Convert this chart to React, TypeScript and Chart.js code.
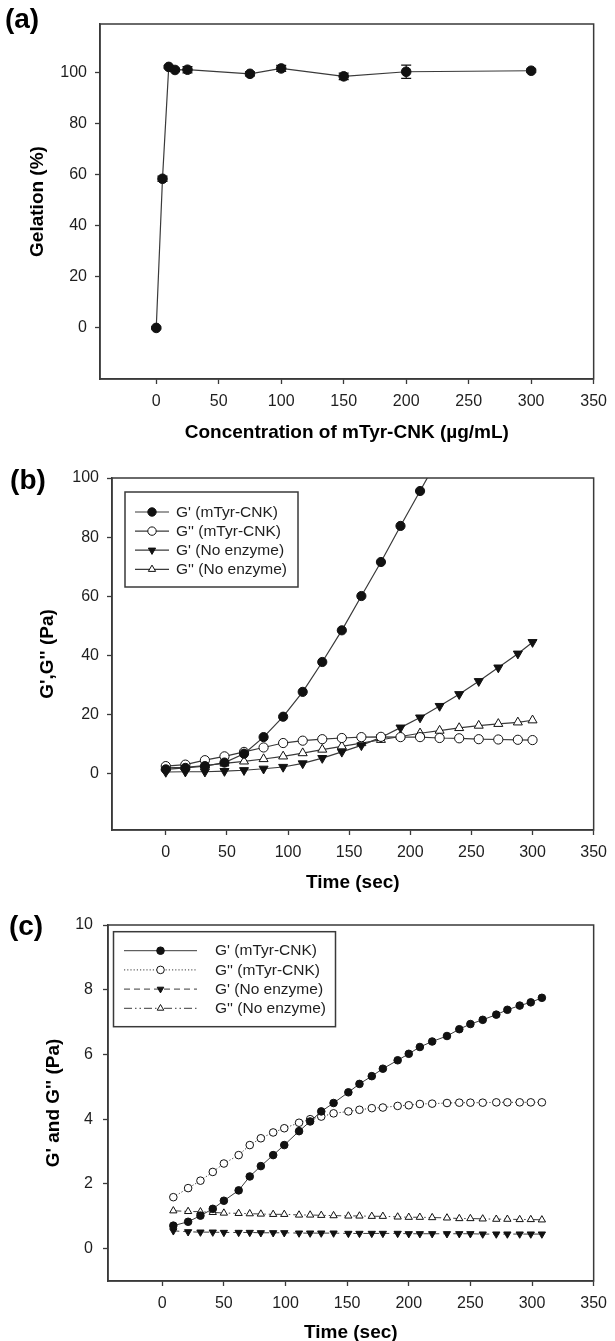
import React, { useEffect, useRef } from "react";
import { Chart, registerables } from "chart.js";
Chart.register(...registerables);

const FONT = '"Liberation Sans", Arial, Helvetica, sans-serif';
const INK = "#1e1e1e";
const FRAME = "#3a3a3a";
const LINE = "#3a3a3a";

// ---------- panel (a) ----------
const concA = [0, 5, 10, 15, 25, 75, 100, 150, 200, 300];
const gelA = [0, 58.4, 102.2, 101.0, 101.1, 99.5, 101.6, 98.5, 100.3, 100.7];
const gelErrA = [0.4, 1.0, 0.5, 0.6, 1.2, 0.8, 1.2, 1.3, 2.6, 0.6];
const xTicks = [0, 50, 100, 150, 200, 250, 300, 350];
const yTicksA = [0, 20, 40, 60, 80, 100];

// ---------- panel (b) ----------
const timeB = [0, 16, 32, 48, 64, 80, 96, 112, 128, 144, 160, 176, 192, 208, 224, 240, 256, 272, 288, 300];
const gpEnzB = [1.5, 2.0, 2.6, 3.8, 6.8, 12.4, 19.3, 27.7, 37.8, 48.5, 60.1, 71.6, 83.8, 95.6, 107.5];
const gppEnzB = [2.6, 3.1, 4.6, 5.9, 7.4, 8.9, 10.4, 11.2, 11.7, 12.1, 12.4, 12.5, 12.4, 12.4, 12.1, 12.0, 11.7, 11.6, 11.5, 11.4];
const gpNoB = [0.6, 0.7, 0.7, 0.9, 1.2, 1.7, 2.3, 3.5, 5.3, 7.4, 9.6, 12.3, 15.6, 19.0, 22.9, 26.9, 31.3, 35.9, 40.6, 44.5];
const gppNoB = [2.0, 2.2, 2.8, 3.5, 4.2, 5.0, 5.9, 7.0, 8.2, 9.3, 10.4, 11.5, 12.6, 13.7, 14.6, 15.5, 16.3, 16.9, 17.4, 18.1];
const yTicksB = [0, 20, 40, 60, 80, 100];

// ---------- panel (c) ----------
const timeC = [9, 21, 31, 41, 50, 62, 71, 80, 90, 99, 111, 120, 129, 139, 151, 160, 170, 179, 191, 200, 209, 219, 231, 241, 250, 260, 271, 280, 290, 299, 308];
const gpEnzC = [0.71, 0.83, 1.02, 1.23, 1.48, 1.80, 2.23, 2.55, 2.89, 3.20, 3.63, 3.93, 4.24, 4.50, 4.83, 5.09, 5.33, 5.56, 5.82, 6.02, 6.23, 6.40, 6.57, 6.78, 6.94, 7.07, 7.23, 7.38, 7.51, 7.61, 7.75];
const gppEnzC = [1.59, 1.87, 2.10, 2.37, 2.63, 2.89, 3.20, 3.41, 3.59, 3.72, 3.89, 4.00, 4.08, 4.18, 4.24, 4.29, 4.34, 4.36, 4.41, 4.43, 4.47, 4.48, 4.50, 4.51, 4.51, 4.51, 4.52, 4.52, 4.52, 4.52, 4.52];
const gpNoC = [0.55, 0.52, 0.51, 0.51, 0.50, 0.50, 0.50, 0.49, 0.49, 0.49, 0.48, 0.48, 0.48, 0.48, 0.47, 0.47, 0.47, 0.47, 0.47, 0.46, 0.46, 0.46, 0.46, 0.46, 0.46, 0.45, 0.45, 0.45, 0.45, 0.45, 0.45];
const gppNoC = [1.17, 1.15, 1.14, 1.12, 1.10, 1.09, 1.08, 1.07, 1.06, 1.06, 1.04, 1.04, 1.03, 1.02, 1.01, 1.01, 1.00, 1.00, 0.98, 0.97, 0.97, 0.96, 0.95, 0.93, 0.93, 0.92, 0.91, 0.91, 0.90, 0.90, 0.89];
const yTicksC = [0, 2, 4, 6, 8, 10];

const seriesLabels = ["G' (mTyr-CNK)", "G'' (mTyr-CNK)", "G' (No enzyme)", "G'' (No enzyme)"];

const zip = (xs: number[], ys: number[]) => ys.map((y, i) => ({ x: xs[i], y }));

// ---------- helpers ----------
function drawMarker(ctx: CanvasRenderingContext2D, style: string, x: number, y: number, r: number, rotDeg: number, fill: string, stroke: string) {
  ctx.save();
  ctx.setLineDash([]);
  ctx.beginPath();
  if (style === "triangle") {
    let rad = (rotDeg * Math.PI) / 180;
    ctx.moveTo(x + Math.sin(rad) * r, y - Math.cos(rad) * r);
    rad += (2 * Math.PI) / 3;
    ctx.lineTo(x + Math.sin(rad) * r, y - Math.cos(rad) * r);
    rad += (2 * Math.PI) / 3;
    ctx.lineTo(x + Math.sin(rad) * r, y - Math.cos(rad) * r);
    ctx.closePath();
  } else {
    ctx.arc(x, y, r, 0, Math.PI * 2);
  }
  ctx.fillStyle = fill;
  ctx.fill();
  ctx.lineWidth = 1;
  ctx.strokeStyle = stroke;
  ctx.stroke();
  ctx.restore();
}

const framePlugin = {
  id: "frameBox",
  afterDraw(chart: any) {
    const { ctx, chartArea: a } = chart;
    ctx.save();
    ctx.strokeStyle = FRAME;
    ctx.lineWidth = 1.5;
    ctx.strokeRect(a.left, a.top, a.right - a.left, a.bottom - a.top);
    ctx.restore();
  },
};

const panelLabelPlugin = {
  id: "panelLabel",
  afterDraw(chart: any, _args: any, opts: any) {
    if (!opts || !opts.text) return;
    const { ctx } = chart;
    ctx.save();
    ctx.font = `bold ${opts.size}px ${FONT}`;
    ctx.fillStyle = "#000";
    ctx.textAlign = "center";
    ctx.textBaseline = "middle";
    ctx.fillText(opts.text, opts.x, opts.y);
    ctx.restore();
  },
};

const errorBarPlugin = {
  id: "errorBars",
  beforeDatasetsDraw(chart: any, _args: any, opts: any) {
    if (!opts || !opts.errors) return;
    const { ctx, scales } = chart;
    const ds = chart.data.datasets[0];
    ctx.save();
    ctx.strokeStyle = "#111";
    ctx.lineWidth = 1.2;
    ds.data.forEach((p: any, i: number) => {
      const e = opts.errors[i];
      if (!e) return;
      const x = scales.x.getPixelForValue(p.x);
      const y1 = scales.y.getPixelForValue(p.y + e);
      const y2 = scales.y.getPixelForValue(p.y - e);
      const w = opts.cap / 2;
      ctx.beginPath();
      ctx.moveTo(x, y1);
      ctx.lineTo(x, y2);
      ctx.moveTo(x - w, y1);
      ctx.lineTo(x + w, y1);
      ctx.moveTo(x - w, y2);
      ctx.lineTo(x + w, y2);
      ctx.stroke();
    });
    ctx.restore();
  },
};

const boxLegendPlugin = {
  id: "boxLegend",
  afterDraw(chart: any, _args: any, o: any) {
    if (!o || !o.show) return;
    const { ctx, chartArea } = chart;
    const x0 = chartArea.left + o.dx;
    const y0 = chartArea.top + o.dy;
    ctx.save();
    ctx.fillStyle = "#fff";
    ctx.fillRect(x0, y0, o.w, o.h);
    ctx.strokeStyle = FRAME;
    ctx.lineWidth = 1.5;
    ctx.strokeRect(x0, y0, o.w, o.h);
    chart.data.datasets.forEach((ds: any, i: number) => {
      const y = y0 + o.rowStart + i * o.rowGap;
      ctx.save();
      ctx.strokeStyle = ds.borderColor;
      ctx.lineWidth = ds.borderWidth;
      ctx.setLineDash(ds.borderDash || []);
      ctx.beginPath();
      ctx.moveTo(x0 + o.lineX0, y);
      ctx.lineTo(x0 + o.lineX1, y);
      ctx.stroke();
      ctx.restore();
      drawMarker(ctx, ds.pointStyle, x0 + o.markerX, y, o.markerR, ds.pointRotation || 0, ds.pointBackgroundColor, ds.pointBorderColor);
      ctx.fillStyle = INK;
      ctx.font = `${o.fontSize}px ${FONT}`;
      ctx.textAlign = "left";
      ctx.textBaseline = "middle";
      ctx.fillText(ds.label, x0 + o.textX, y + 0.5);
    });
    ctx.restore();
  },
};

function xAxis(min: number, title: string, height: number, titlePad: number) {
  return {
    type: "linear",
    min,
    max: 350,
    afterBuildTicks: (s: any) => {
      s.ticks = xTicks.map((v) => ({ value: v }));
    },
    afterFit: (s: any) => {
      s.height = height;
    },
    grid: { display: true, drawOnChartArea: false, drawTicks: true, tickLength: 5, tickColor: FRAME, tickWidth: 1.3 },
    border: { display: true, color: FRAME, width: 1.5 },
    ticks: { color: INK, font: { family: FONT, size: 16 }, padding: 8, maxRotation: 0, autoSkip: false },
    title: { display: true, text: title, color: "#000", font: { family: FONT, size: 19, weight: "bold" }, padding: { top: 0, bottom: titlePad } },
  };
}

function yAxis(min: number, max: number, ticks: number[], title: string, width: number, titlePad: number, tickPad: number) {
  return {
    type: "linear",
    min,
    max,
    afterBuildTicks: (s: any) => {
      s.ticks = ticks.map((v) => ({ value: v }));
    },
    afterFit: (s: any) => {
      s.width = width;
    },
    grid: { display: true, drawOnChartArea: false, drawTicks: true, tickLength: 5, tickColor: FRAME, tickWidth: 1.3 },
    border: { display: true, color: FRAME, width: 1.5 },
    ticks: { color: INK, font: { family: FONT, size: 16 }, padding: tickPad },
    title: { display: true, text: title, color: "#000", font: { family: FONT, size: 19, weight: "bold" }, padding: { top: titlePad, bottom: 0 } },
  };
}

function configA(): any {
  return {
    type: "line",
    data: {
      datasets: [
        {
          label: "Gelation",
          data: zip(concA, gelA),
          borderColor: LINE,
          borderWidth: 1.2,
          pointStyle: "circle",
          pointRadius: 4.8,
          pointBackgroundColor: "#111",
          pointBorderColor: "#111",
          pointBorderWidth: 1,
          tension: 0,
        },
      ],
    },
    options: {
      responsive: false,
      animation: false,
      devicePixelRatio: 1,
      layout: { padding: { top: 24, right: 20, left: 0, bottom: 0 } },
      scales: {
        x: xAxis(-45, "Concentration of mTyr-CNK (\u00b5g/mL)", 66, 1),
        y: yAxis(-20, 119, yTicksA, "Gelation (%)", 100, 26, 8),
      },
      plugins: {
        legend: { display: false },
        tooltip: { enabled: false },
        panelLabel: { text: "(a)", x: 22, y: 20, size: 28 },
        errorBars: { errors: gelErrA, cap: 10 },
        boxLegend: { show: false },
      },
    },
    plugins: [errorBarPlugin, framePlugin, panelLabelPlugin, boxLegendPlugin],
  };
}

function seriesSet(xs: number[], ys: number[][], radius: number[], width: number, dashes: number[][]) {
  const fills = ["#111", "#fff", "#111", "#fff"];
  const styles = ["circle", "circle", "triangle", "triangle"];
  const rots = [0, 0, 180, 0];
  return ys.map((vals, i) => ({
    label: seriesLabels[i],
    data: zip(xs, vals),
    borderColor: LINE,
    borderWidth: width,
    borderDash: dashes[i],
    pointStyle: styles[i],
    pointRotation: rots[i],
    pointRadius: radius[i],
    pointBackgroundColor: fills[i],
    pointBorderColor: "#111",
    pointBorderWidth: 1,
    tension: 0,
  }));
}

function configB(): any {
  return {
    type: "line",
    data: {
      datasets: seriesSet(timeB, [gpEnzB, gppEnzB, gpNoB, gppNoB], [4.6, 4.6, 5.2, 5.2], 1.2, [[], [], [], []]),
    },
    options: {
      responsive: false,
      animation: false,
      devicePixelRatio: 1,
      layout: { padding: { top: 33, right: 14, left: 0, bottom: 0 } },
      scales: {
        x: xAxis(-44, "Time (sec)", 65, 1),
        y: yAxis(-19, 100, yTicksB, "G',G'' (Pa)", 112, 36, 8),
      },
      plugins: {
        legend: { display: false },
        tooltip: { enabled: false },
        panelLabel: { text: "(b)", x: 28, y: 36, size: 28 },
        boxLegend: { show: true, dx: 13, dy: 14, w: 173, h: 95, rowStart: 20, rowGap: 19.1, lineX0: 10, lineX1: 44, markerX: 27, markerR: 4.2, textX: 51, fontSize: 15.5 },
      },
    },
    plugins: [framePlugin, panelLabelPlugin, boxLegendPlugin],
  };
}

function configC(): any {
  return {
    type: "line",
    data: {
      datasets: seriesSet(timeC, [gpEnzC, gppEnzC, gpNoC, gppNoC], [3.8, 3.8, 4.2, 4.2], 1, [[], [1.2, 2], [6, 4], [8, 3, 1.5, 3, 1.5, 3]]),
    },
    options: {
      responsive: false,
      animation: false,
      devicePixelRatio: 1,
      layout: { padding: { top: 30, right: 16, left: 0, bottom: 0 } },
      scales: {
        x: xAxis(-44, "Time (sec)", 64, 1),
        y: yAxis(-1, 10, yTicksC, "G' and G'' (Pa)", 108, 42, 10),
      },
      plugins: {
        legend: { display: false },
        tooltip: { enabled: false },
        panelLabel: { text: "(c)", x: 26, y: 32, size: 28 },
        boxLegend: { show: true, dx: 5.5, dy: 6.7, w: 222, h: 95, rowStart: 19, rowGap: 19.2, lineX0: 10.5, lineX1: 83.5, markerX: 47, markerR: 3.8, textX: 101.5, fontSize: 15.5 },
      },
    },
    plugins: [framePlugin, panelLabelPlugin, boxLegendPlugin],
  };
}

function Panel({ top, height, make }: { top: number; height: number; make: () => any }) {
  const ref = useRef<HTMLCanvasElement>(null);
  useEffect(() => {
    const chart = new Chart(ref.current as HTMLCanvasElement, make());
    return () => chart.destroy();
  }, []);
  return (
    <canvas
      ref={ref}
      width={615}
      height={height}
      style={{ position: "absolute", left: 0, top, width: 615, height, display: "block" }}
    />
  );
}

export default function App() {
  return (
    <div style={{ position: "absolute", left: 0, top: 0, width: 615, height: 1341, overflow: "hidden", background: "#fff" }}>
      <Panel top={0} height={445} make={configA} />
      <Panel top={445} height={450} make={configB} />
      <Panel top={895} height={450} make={configC} />
    </div>
  );
}
